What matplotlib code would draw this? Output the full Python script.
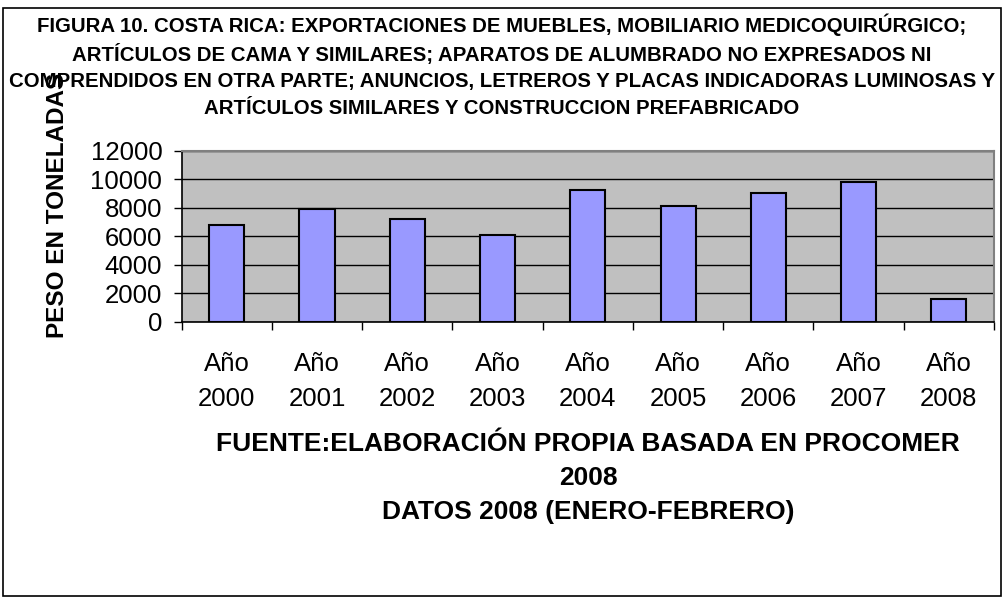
import matplotlib
matplotlib.use("Agg")
import matplotlib.pyplot as plt
from matplotlib.patches import Rectangle
from matplotlib.ticker import FixedLocator

plt.rcParams['font.family'] = ['Liberation Sans', 'DejaVu Sans']

categories = ["Año\n2000", "Año\n2001", "Año\n2002", "Año\n2003", "Año\n2004",
              "Año\n2005", "Año\n2006", "Año\n2007", "Año\n2008"]
values = [6800, 7900, 7200, 6100, 9250, 8150, 9000, 9800, 1600]
y_ticks = [0, 2000, 4000, 6000, 8000, 10000, 12000]

title = ("FIGURA 10. COSTA RICA: EXPORTACIONES DE MUEBLES, MOBILIARIO MEDICOQUIRÚRGICO;\n"
         "ARTÍCULOS DE CAMA Y SIMILARES; APARATOS DE ALUMBRADO NO EXPRESADOS NI\n"
         "COMPRENDIDOS EN OTRA PARTE; ANUNCIOS, LETREROS Y PLACAS INDICADORAS LUMINOSAS Y\n"
         "ARTÍCULOS SIMILARES Y CONSTRUCCION PREFABRICADO")
footer = ("FUENTE:ELABORACIÓN PROPIA BASADA EN PROCOMER\n2008\n"
          "DATOS 2008 (ENERO-FEBRERO)")
ylabel = "PESO EN TONELADAS"

W, H = 1003, 598
fig = plt.figure(figsize=(W / 100, H / 100), dpi=100)
fig.patch.set_facecolor("white")

# outer border
fig.add_artist(Rectangle((3 / W, 2 / H), (W - 5) / W, (H - 10) / H,
                         transform=fig.transFigure, fill=False,
                         edgecolor="black", linewidth=1.2))

ax = fig.add_axes([181.7 / W, 1 - 321.7 / H, (994 - 181.7) / W, (321.7 - 150.7) / H])
ax.set_facecolor("#C0C0C0")

x = list(range(len(categories)))
ax.bar(x, values, width=0.39, color="#9999FF", edgecolor="black", linewidth=1.5, zorder=3)

ax.set_xlim(-0.5, len(categories) - 0.5)
ax.set_ylim(0, 12000)
ax.set_yticks(y_ticks)
ax.set_yticklabels([str(v) for v in y_ticks], fontsize=18.5)
ax.yaxis.grid(True, color="black", linewidth=1.0, zorder=1)
ax.set_axisbelow(True)

ax.set_xticks(x)
ax.set_xticklabels(categories, fontsize=18.5, linespacing=1.55)
ax.xaxis.set_minor_locator(FixedLocator([i - 0.5 for i in range(len(categories) + 1)]))
ax.tick_params(axis="x", which="major", length=0, pad=22)
ax.tick_params(axis="x", which="minor", length=6, width=1, color="black")
ax.tick_params(axis="y", which="major", length=6, width=1, color="black", pad=8)

for s in ["top", "right"]:
    ax.spines[s].set_color("#808080")
    ax.spines[s].set_linewidth(1.5)
for s in ["left", "bottom"]:
    ax.spines[s].set_color("black")
    ax.spines[s].set_linewidth(1.2)

fig.text(502 / W, 1 - 65.5 / H, title, ha="center", va="center", fontsize=14.7,
         fontweight="bold", linespacing=1.5)
fig.text(58 / W, 1 - 205 / H, ylabel, ha="center", va="center", rotation=90,
         fontsize=17.5, fontweight="bold", zorder=0)
fig.text(588 / W, 1 - 478 / H, footer, ha="center", va="center", fontsize=19,
         fontweight="bold", linespacing=1.52)

fig.savefig("out.png", dpi=100, facecolor="white")
